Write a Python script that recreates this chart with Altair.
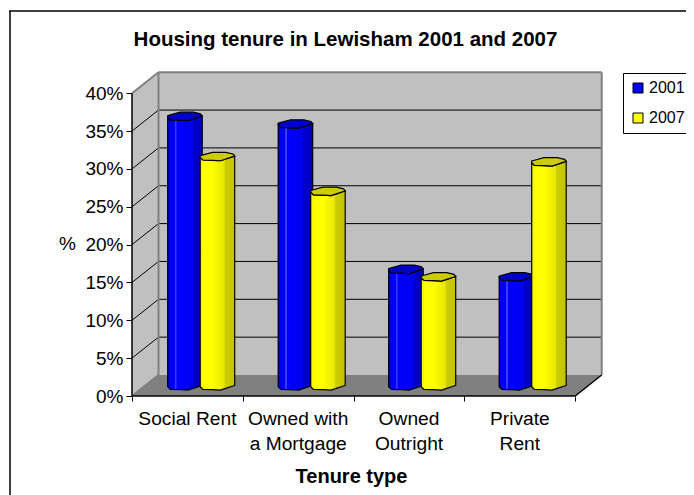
import altair as alt
import pandas as pd

categories = ["Social Rent", "Owned with|a Mortgage", "Owned|Outright", "Private|Rent"]
series_names = ["2001", "2007"]
values_2001 = [35.6, 34.6, 15.4, 14.4]
values_2007 = [30.3, 25.7, 14.4, 29.6]
y_ticks = [0, 5, 10, 15, 20, 25, 30, 35, 40]
x_ticks = [0, 1, 2, 3, 4]

PX_X = 110.8   # pixels per category
PX_Y = 7.57    # pixels per percentage point
DX = 26.5 / PX_X
DY = 21.0 / PX_Y
W, H = 469, 324
FONT = "Liberation Sans"

xs = alt.Scale(domain=[0, W / PX_X], range=[0, W], nice=False, zero=False)
ys = alt.Scale(domain=[0, H / PX_Y], range=[H, 0], nice=False, zero=False)

x_axis = alt.Axis(
    values=x_ticks, labels=False, domain=False, grid=False, tickSize=5,
    tickColor="black", title="Tenure type", titleFont=FONT, titleFontSize=20,
    titleFontWeight="bold", titleColor="black", titleX=219, titleY=80,
    titleAlign="center", titleBaseline="middle",
)
y_axis = alt.Axis(
    values=y_ticks, labelExpr="datum.value + '%'", domain=False, grid=False,
    tickSize=6, tickColor="black", labelFont=FONT, labelFontSize=19,
    labelColor="black", labelPadding=3, title="%", titleFont=FONT,
    titleFontSize=19, titleFontWeight="normal", titleColor="black", titleAngle=0,
    titleX=-65, titleY=171, titleAlign="center", titleBaseline="middle",
)


def X(f="x"):
    return alt.X(f"{f}:Q", scale=xs, axis=x_axis)


def Y(f="y"):
    return alt.Y(f"{f}:Q", scale=ys, axis=y_axis)


def rules(rows, color, width):
    return (
        alt.Chart(pd.DataFrame(rows, columns=["x", "x2", "y", "y2"]))
        .mark_rule(color=color, strokeWidth=width)
        .encode(x=X(), x2="x2:Q", y=Y(), y2="y2:Q")
    )


def polygon(rows, fill):
    return (
        alt.Chart(pd.DataFrame(rows, columns=["x", "y", "y2"]))
        .mark_area(color=fill, interpolate="linear")
        .encode(x=X(), y=Y(), y2="y2:Q")
    )


# ---- walls and floor ----
top = y_ticks[-1]
end = x_ticks[-1]
back_wall = (
    alt.Chart(pd.DataFrame({"x": [DX], "x2": [end + DX], "y": [DY], "y2": [top + DY]}))
    .mark_rect(color="#C0C0C0")
    .encode(x=X(), x2="x2:Q", y=Y(), y2="y2:Q")
)
side_wall = polygon([(0, 0, top), (DX, DY, top + DY)], "#C0C0C0")
floor = polygon([(0, 0, 0), (DX, 0, DY), (end, 0, DY), (end + DX, DY, DY)], "#808080")

grid = rules(
    [(DX, end + DX, t + DY, t + DY) for t in y_ticks[1:-1]]
    + [(0, DX, t, t + DY) for t in y_ticks[1:-1]],
    "black", 1,
)
grey_edges = rules(
    [
        (DX, end + DX, top + DY, top + DY),
        (DX, DX, DY, top + DY),
        (end + DX, end + DX, DY, top + DY),
        (0, DX, top, top + DY),
        (0, DX, 0, DY),
    ],
    "#808080", 2,
)
axis_lines = rules(
    [(0, end, 0, 0), (0, 0, 0, top), (end, end + DX, 0, DY)],
    "black", 1.5,
)

# ---- cylinders ----
FRAC = [0, 0.08, 0.36, 0.59, 0.74, 0.95, 1]
LOWER = [0, 2.7, 3.0, 3.4, 1.7, -0.7, -1.3]
UPPER = [-1.6, -2.4, -5, -5, -5, -3.3, -1.3]
BAR_W = 34.5 / PX_X
BASE = (396 - 386.7) / PX_Y
LEFT = {"2001": 35.7 / PX_X, "2007": 68.2 / PX_X}
STEP = 110.5 / PX_X


def body_rows(name, vals):
    rows = []
    for i, v in enumerate(vals):
        for f, lo in zip(FRAC, LOWER):
            rows.append(
                {
                    "bar": i,
                    "series": name,
                    "x": i * STEP + LEFT[name] + f * BAR_W,
                    "y": BASE - lo / PX_Y,
                    "y2": BASE + v - lo / PX_Y,
                }
            )
    return pd.DataFrame(rows)


def cap_rows(name, vals):
    rows = []
    for i, v in enumerate(vals):
        for f, lo, up in zip(FRAC, LOWER, UPPER):
            rows.append(
                {
                    "bar": i,
                    "x": i * STEP + LEFT[name] + f * BAR_W,
                    "y": BASE + v - lo / PX_Y,
                    "y2": BASE + v - up / PX_Y,
                }
            )
    return pd.DataFrame(rows)


def grad(stops):
    return alt.LinearGradient(
        gradient="linear", x1=0, x2=1, y1=0, y2=0,
        stops=[alt.GradientStop(offset=o, color=c) for o, c in stops],
    )


blue_grad = grad([
    (0, "#0000DD"), (0.1, "#0000F0"), (0.2, "#0000FF"), (0.21, "#3A3AFF"), (0.25, "#3A3AFF"),
    (0.26, "#0000FF"), (0.72, "#0000F0"), (0.73, "#0000CC"), (1, "#0000C0"),
])
yellow_grad = grad([
    (0, "#F0F000"), (0.1, "#FFFF00"), (0.35, "#FFFF00"), (0.7, "#E6E600"), (0.72, "#CCCC00"), (1, "#C4C400"),
])

legend = alt.Legend(
    title=None, orient="none", legendX=491, legendY=1, strokeColor="black", fillColor="white",
    padding=7, labelFont=FONT, labelFontSize=16, labelColor="black", symbolType="square",
    symbolSize=100, symbolStrokeColor="black", symbolStrokeWidth=1, rowPadding=14, labelOffset=3,
)

all_bars = pd.concat([body_rows("2001", values_2001), body_rows("2007", values_2007)])
base_layer = (
    alt.Chart(all_bars)
    .mark_area(interpolate="linear", opacity=1)
    .encode(
        x=X(), y=Y(), y2="y2:Q", detail="key:N",
        color=alt.Color("series:N", scale=alt.Scale(domain=series_names, range=["#0000FF", "#FFFF00"]), legend=legend),
    )
    .transform_calculate(key="datum.series + datum.bar")
)


def body(name, vals, gradient):
    return (
        alt.Chart(body_rows(name, vals))
        .mark_area(color=gradient, stroke="black", strokeWidth=1.2, interpolate="linear")
        .encode(x=X(), y=Y(), y2="y2:Q", detail="bar:N")
    )


def cap(name, vals, fill):
    return (
        alt.Chart(cap_rows(name, vals))
        .mark_area(color=fill, stroke="black", strokeWidth=1.2, interpolate="linear")
        .encode(x=X(), y=Y(), y2="y2:Q", detail="bar:N")
    )


# ---- category labels ----
cat_labels = (
    alt.Chart(pd.DataFrame({"x": [i + 0.5 for i in range(len(categories))], "label": categories}))
    .mark_text(font=FONT, fontSize=19.2, color="black", baseline="top", lineBreak="|", lineHeight=25, dy=14)
    .encode(x=X(), y=alt.datum(0, scale=ys, axis=y_axis), text="label:N")
)

# ---- frame of the chart area ----
frame_left = alt.Chart(pd.DataFrame({"a": [0]})).mark_rule(color="#404040", strokeWidth=2).encode(
    x=alt.value(-122), y=alt.value(-61), y2=alt.value(430)
)
frame_top = alt.Chart(pd.DataFrame({"a": [0]})).mark_rule(color="black", strokeWidth=1.5).encode(
    x=alt.value(-123), x2=alt.value(560), y=alt.value(-61)
)

chart = (
    alt.layer(
        back_wall, side_wall, floor, grid, grey_edges, axis_lines,
        base_layer,
        body("2001", values_2001, blue_grad), cap("2001", values_2001, "#0000CC"),
        body("2007", values_2007, yellow_grad), cap("2007", values_2007, "#CCCC00"),
        cat_labels, frame_left, frame_top,
    )
    .properties(
        width=W, height=H,
        padding={"left": 124, "top": 64, "right": 85, "bottom": 99},
        autosize=alt.AutoSizeParams(type="none"),
        background="white",
        title=alt.TitleParams(
            "Housing tenure in Lewisham 2001 and 2007", font=FONT, fontSize=20.5, fontWeight="bold",
            color="black", anchor="middle", dx=-21, offset=-40,
        ),
    )
    .configure_view(stroke=None)
)

chart.save("out.html", embed_options={"renderer": "svg", "actions": False})
